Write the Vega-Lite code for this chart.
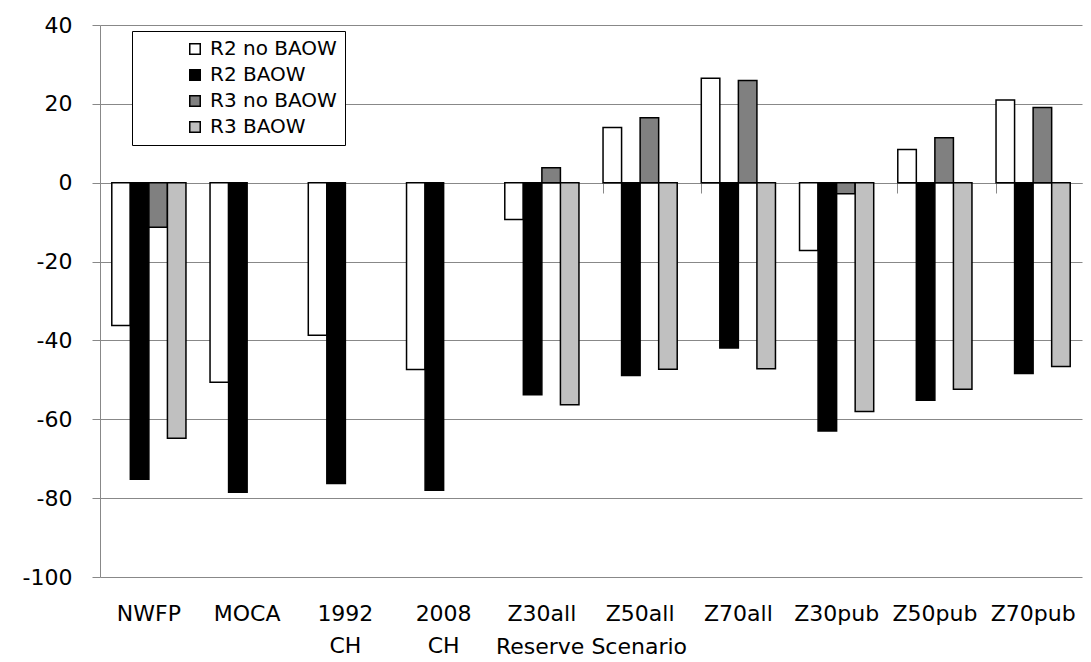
{
  "$schema": "https://vega.github.io/schema/vega-lite/v6.json",
  "width": 982,
  "height": 552,
  "autosize": "none",
  "padding": {"left": 100, "top": 25, "right": 9, "bottom": 85},
  "background": "white",
  "config": {
    "view": {"stroke": null},
    "font": "DejaVu Sans",
    "axis": {"labelColor": "black", "labelFont": "DejaVu Sans"},
    "legend": {"labelFont": "DejaVu Sans"}
  },
  "data": {
    "values": [
      {"scenario": "NWFP", "series": "R2 no BAOW", "value": -36.2},
      {"scenario": "NWFP", "series": "R2 BAOW", "value": -75.2},
      {"scenario": "NWFP", "series": "R3 no BAOW", "value": -11.3},
      {"scenario": "NWFP", "series": "R3 BAOW", "value": -64.8},
      {"scenario": "MOCA", "series": "R2 no BAOW", "value": -50.6},
      {"scenario": "MOCA", "series": "R2 BAOW", "value": -78.5},
      {"scenario": "1992 CH", "series": "R2 no BAOW", "value": -38.7},
      {"scenario": "1992 CH", "series": "R2 BAOW", "value": -76.3},
      {"scenario": "2008 CH", "series": "R2 no BAOW", "value": -47.4},
      {"scenario": "2008 CH", "series": "R2 BAOW", "value": -78.0},
      {"scenario": "Z30all", "series": "R2 no BAOW", "value": -9.3},
      {"scenario": "Z30all", "series": "R2 BAOW", "value": -53.8},
      {"scenario": "Z30all", "series": "R3 no BAOW", "value": 3.8},
      {"scenario": "Z30all", "series": "R3 BAOW", "value": -56.3},
      {"scenario": "Z50all", "series": "R2 no BAOW", "value": 14.0},
      {"scenario": "Z50all", "series": "R2 BAOW", "value": -48.9},
      {"scenario": "Z50all", "series": "R3 no BAOW", "value": 16.5},
      {"scenario": "Z50all", "series": "R3 BAOW", "value": -47.3},
      {"scenario": "Z70all", "series": "R2 no BAOW", "value": 26.5},
      {"scenario": "Z70all", "series": "R2 BAOW", "value": -41.9},
      {"scenario": "Z70all", "series": "R3 no BAOW", "value": 25.9},
      {"scenario": "Z70all", "series": "R3 BAOW", "value": -47.2},
      {"scenario": "Z30pub", "series": "R2 no BAOW", "value": -17.2},
      {"scenario": "Z30pub", "series": "R2 BAOW", "value": -63.0},
      {"scenario": "Z30pub", "series": "R3 no BAOW", "value": -2.8},
      {"scenario": "Z30pub", "series": "R3 BAOW", "value": -58.0},
      {"scenario": "Z50pub", "series": "R2 no BAOW", "value": 8.4},
      {"scenario": "Z50pub", "series": "R2 BAOW", "value": -55.2},
      {"scenario": "Z50pub", "series": "R3 no BAOW", "value": 11.4},
      {"scenario": "Z50pub", "series": "R3 BAOW", "value": -52.4},
      {"scenario": "Z70pub", "series": "R2 no BAOW", "value": 21.0},
      {"scenario": "Z70pub", "series": "R2 BAOW", "value": -48.4},
      {"scenario": "Z70pub", "series": "R3 no BAOW", "value": 19.1},
      {"scenario": "Z70pub", "series": "R3 BAOW", "value": -46.6}
    ]
  },
  "resolve": {"axis": {"x": "independent"}},
  "layer": [
    {
      "mark": {"type": "bar", "stroke": "black", "strokeWidth": 1.5},
      "encoding": {
        "x": {
          "field": "scenario",
          "type": "nominal",
          "sort": ["NWFP", "MOCA", "1992 CH", "2008 CH", "Z30all", "Z50all", "Z70all", "Z30pub", "Z50pub", "Z70pub"],
          "scale": {"paddingInner": 0.245, "paddingOuter": 0.12},
          "axis": {
            "orient": "bottom",
            "title": "Reserve Scenario",
            "titleFont": "DejaVu Sans",
            "titleFontSize": 22,
            "titleFontWeight": "normal",
            "titleColor": "black",
            "titleBaseline": "top",
            "titleY": 59,
            "labelAngle": 0,
            "labelFontSize": 22,
            "labelBaseline": "top",
            "labelPadding": 26,
            "labelLineHeight": 32,
            "labelExpr": "split(datum.label, ' ')",
            "domain": false,
            "ticks": false,
            "grid": false
          }
        },
        "xOffset": {
          "field": "series",
          "type": "nominal",
          "scale": {"domain": ["R2 no BAOW", "R2 BAOW", "R3 no BAOW", "R3 BAOW"], "paddingInner": 0, "paddingOuter": 0}
        },
        "y": {
          "field": "value",
          "type": "quantitative",
          "scale": {"domain": [-100, 40], "nice": false},
          "axis": {
            "title": null,
            "values": [-100, -80, -60, -40, -20, 0, 20, 40],
            "labelExpr": "replace(datum.label, '−', '-')",
            "labelFontSize": 22,
            "labelPadding": 20,
            "tickSize": 8,
            "tickColor": "#888888",
            "domainColor": "#888888",
            "gridColor": "#888888",
            "gridWidth": 1
          }
        },
        "fill": {
          "field": "series",
          "type": "nominal",
          "scale": {"domain": ["R2 no BAOW", "R2 BAOW", "R3 no BAOW", "R3 BAOW"], "range": ["#ffffff", "#000000", "#808080", "#c0c0c0"]},
          "legend": {
            "title": null,
            "orient": "none",
            "legendX": 32,
            "legendY": 6,
            "symbolType": "square",
            "symbolSize": 110,
            "symbolStrokeColor": "black",
            "symbolStrokeWidth": 1.5,
            "symbolOffset": 45,
            "labelFontSize": 20,
            "labelColor": "black",
            "labelOffset": 5,
            "rowPadding": 6,
            "padding": 8,
            "strokeColor": "black",
            "fillColor": "white"
          }
        }
      }
    },
    {
      "mark": {"type": "point", "opacity": 0},
      "encoding": {
        "x": {
          "field": "scenario",
          "type": "nominal",
          "sort": ["NWFP", "MOCA", "1992 CH", "2008 CH", "Z30all", "Z50all", "Z70all", "Z30pub", "Z50pub", "Z70pub"],
          "axis": {
            "orient": "top",
            "offset": -158,
            "title": null,
            "labels": false,
            "grid": false,
            "domainColor": "#888888",
            "tickColor": "#888888",
            "tickSize": -10,
            "bandPosition": 0
          }
        }
      }
    }
  ]
}
